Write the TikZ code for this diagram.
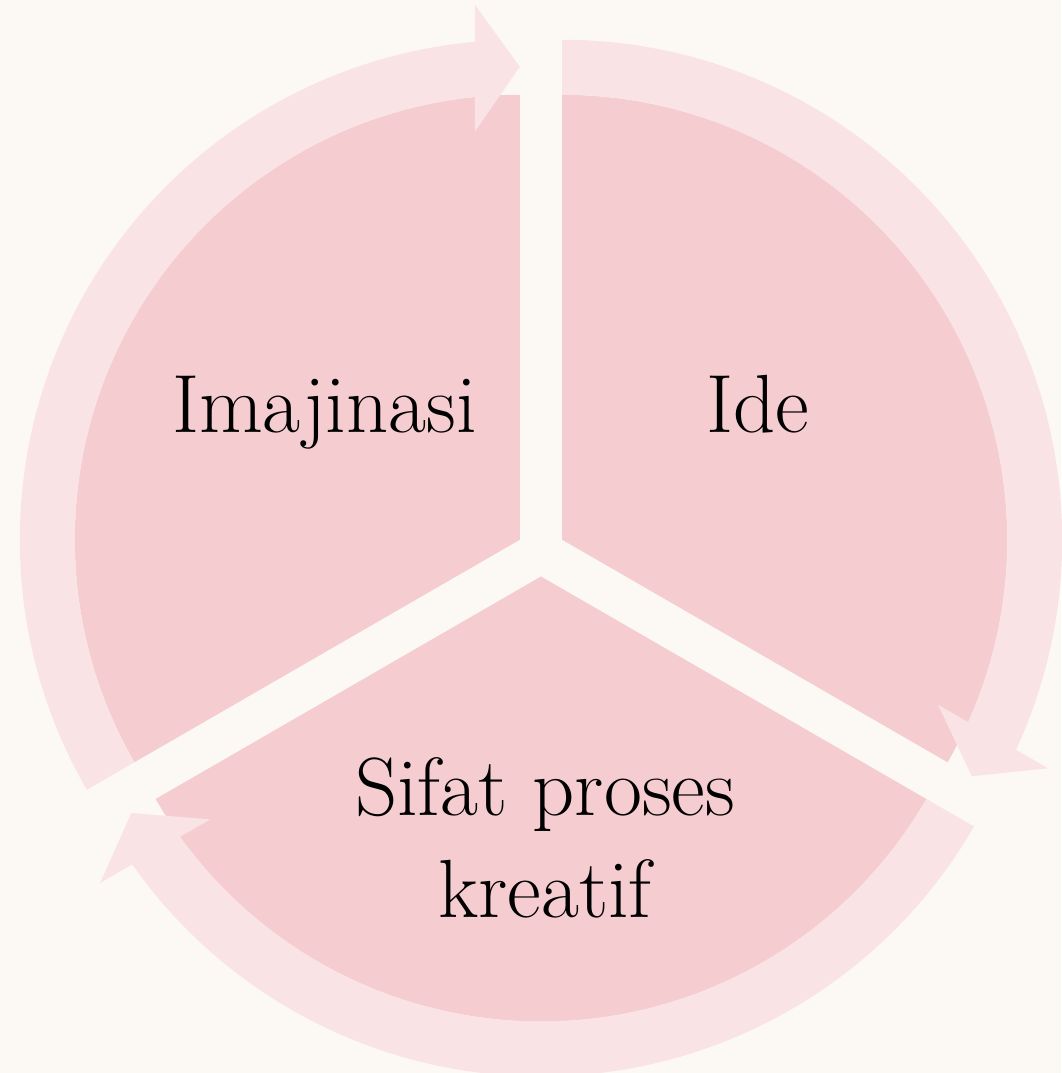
\documentclass[tikz,border=0pt]{standalone}
\definecolor{paper}{HTML}{FCF9F5}
\definecolor{segpink}{HTML}{F5CDD0}
\definecolor{bandpink}{HTML}{F9E3E5}
\begin{document}
\begin{tikzpicture}[segment/.style={fill=segpink}, band/.style={fill=bandpink}, every node/.style={font=\fontsize{23.5}{29.3}\selectfont, align=center, inner sep=0pt}]
	\useasboundingbox (0,0) rectangle (10.61,10.73);
	\fill[paper] (0,0) rectangle (10.61,10.73);
	% three exploded segments, rotated about the middle
	\foreach \a in {0,-120,120} {
		\begin{scope}[rotate around={\a:(5.41,5.21)}, shift={(5.198,5.3325)}]
			\fill[segment] (0,0) -- (90:4.45) arc[start angle=90, end angle=210, radius=4.45] -- cycle;
		\end{scope}
	}
	% curved arrows on top
	\foreach \a in {0,-120,120} {
		\begin{scope}[rotate around={\a:(5.41,5.21)}, shift={(5.198,5.3325)}]
			\fill[band] (210:4.45) -- (210:5) arc[start angle=210, end angle=95.16, radius=5] -- (-0.45,5.35) -- (0,4.73) -- (-0.45,4.08) -- (95.8:4.45) arc[start angle=95.8, end angle=210, radius=4.45] -- cycle;
		\end{scope}
	}
	\node[anchor=base] (imajinasi) at (3.245,6.40) {Imajinasi};
	\node[anchor=base] (ide) at (7.58,6.40) {Ide};
	\node[anchor=base] (sifat) at (5.45,1.55) {Sifat proses\\kreatif};
\end{tikzpicture}
\end{document}
